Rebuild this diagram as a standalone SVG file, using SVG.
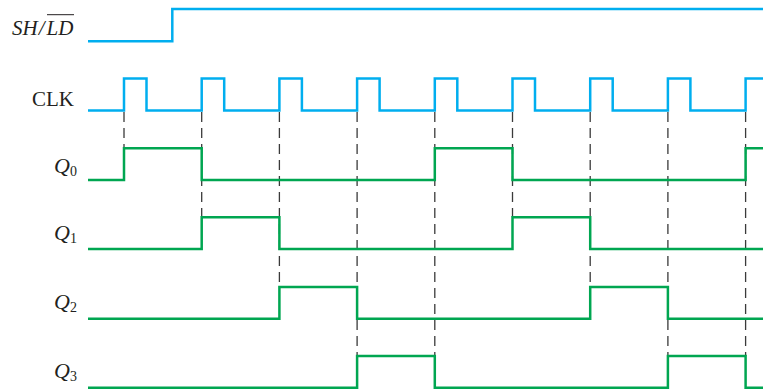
<svg xmlns="http://www.w3.org/2000/svg" width="763" height="389" viewBox="0 0 763 389">
<style>
  .lbl { font-family: "Liberation Serif", "Times New Roman", serif; font-size: 21px; fill: #231f20; }
  .it { font-style: italic; }
  .q { font-size: 22px; }
  .sub { font-size: 14px; font-style: normal; }
  .blue { fill: none; stroke: #00aeef; stroke-width: 2.5; stroke-linejoin: miter; }
  .green { fill: none; stroke: #00a651; stroke-width: 2.5; stroke-linejoin: miter; }
  .dash { stroke: #3a3a3a; stroke-width: 1.3; stroke-dasharray: 10 6; fill: none; }
</style>
<rect width="763" height="389" fill="#ffffff"/>
<g id="connectors">
  <line class="dash" x1="124" y1="112" x2="124" y2="148"/>
  <line class="dash" x1="201.7" y1="112" x2="201.7" y2="217"/>
  <line class="dash" x1="279.4" y1="112" x2="279.4" y2="287"/>
  <line class="dash" x1="357.1" y1="112" x2="357.1" y2="356"/>
  <line class="dash" x1="434.8" y1="112" x2="434.8" y2="356"/>
  <line class="dash" x1="512.5" y1="112" x2="512.5" y2="217"/>
  <line class="dash" x1="590.2" y1="112" x2="590.2" y2="287"/>
  <line class="dash" x1="667.9" y1="112" x2="667.9" y2="356"/>
  <line class="dash" x1="745.6" y1="112" x2="745.6" y2="356"/>
</g>
<g id="sh_ld">
  <text class="lbl it" x="12" y="35">SH<tspan dx="1">/</tspan><tspan dx="2">LD</tspan></text>
  <line x1="47" y1="14.7" x2="74" y2="14.7" stroke="#231f20" stroke-width="1"/>
  <polyline class="blue" points="88,41.3 172.3,41.3 172.3,9 763,9"/>
</g>
<g id="clk">
  <text class="lbl" x="32" y="106">CLK</text>
  <polyline class="blue" points="88,110.5 124,110.5 124,78.5 146.5,78.5 146.5,110.5 201.7,110.5 201.7,78.5 224.2,78.5 224.2,110.5 279.4,110.5 279.4,78.5 301.9,78.5 301.9,110.5 357.1,110.5 357.1,78.5 379.6,78.5 379.6,110.5 434.8,110.5 434.8,78.5 457.3,78.5 457.3,110.5 512.5,110.5 512.5,78.5 535,78.5 535,110.5 590.2,110.5 590.2,78.5 612.7,78.5 612.7,110.5 667.9,110.5 667.9,78.5 690.4,78.5 690.4,110.5 745.6,110.5 745.6,78.5 763,78.5"/>
</g>
<g id="q0">
  <text class="lbl it q" x="54" y="173">Q<tspan class="sub" dy="3">0</tspan></text>
  <polyline class="green" points="88,180 124,180 124,148.3 201.7,148.3 201.7,180 434.8,180 434.8,148.3 512.5,148.3 512.5,180 745.6,180 745.6,148.3 763,148.3"/>
</g>
<g id="q1">
  <text class="lbl it q" x="54" y="240">Q<tspan class="sub" dy="3">1</tspan></text>
  <polyline class="green" points="88,249 201.7,249 201.7,217.3 279.4,217.3 279.4,249 512.5,249 512.5,217.3 590.2,217.3 590.2,249 763,249"/>
</g>
<g id="q2">
  <text class="lbl it q" x="54" y="309.3">Q<tspan class="sub" dy="3">2</tspan></text>
  <polyline class="green" points="88,318.7 279.4,318.7 279.4,287 357.1,287 357.1,318.7 590.2,318.7 590.2,287 667.9,287 667.9,318.7 763,318.7"/>
</g>
<g id="q3">
  <text class="lbl it q" x="54" y="378.3">Q<tspan class="sub" dy="3">3</tspan></text>
  <polyline class="green" points="88,387.7 357.1,387.7 357.1,356 434.8,356 434.8,387.7 667.9,387.7 667.9,356 745.6,356 745.6,387.7 763,387.7"/>
</g>
</svg>
